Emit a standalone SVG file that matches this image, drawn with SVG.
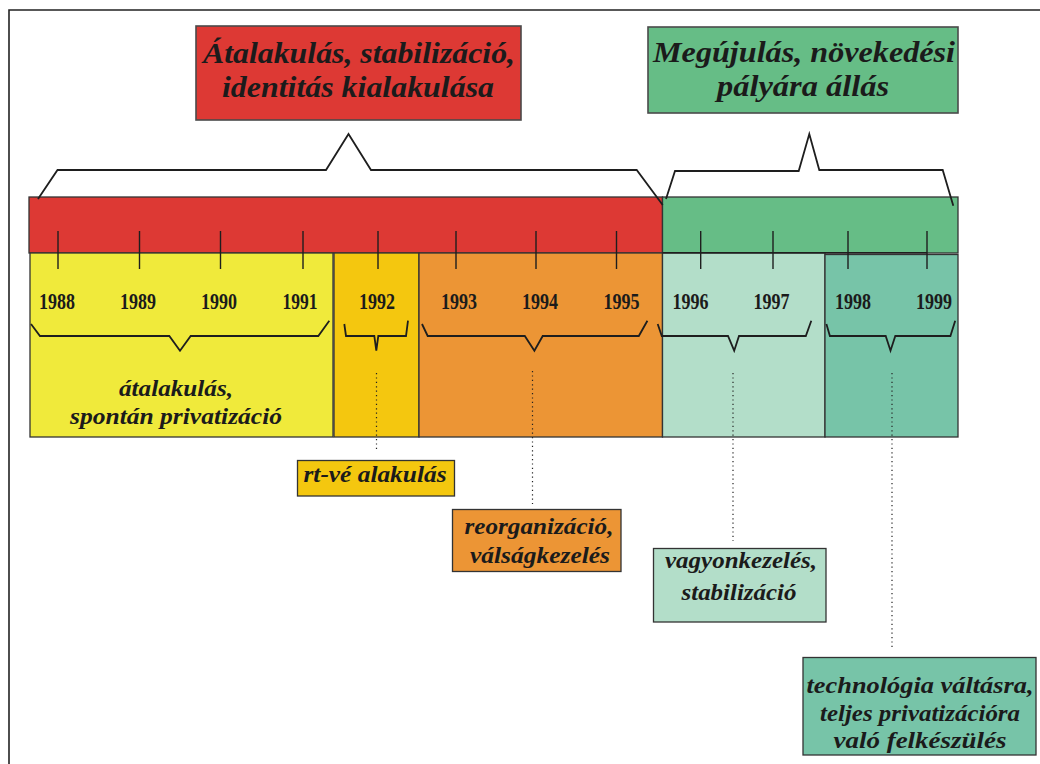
<svg xmlns="http://www.w3.org/2000/svg" width="1040" height="764" viewBox="0 0 1040 764">
  <defs>
    <style>
      .frame { fill: none; stroke: #222; stroke-width: 1.6; }
      .box { stroke: #333; stroke-width: 1.3; }
      .tbox { stroke: #4a4a4a; stroke-width: 1.6; }
      .brace { fill: none; stroke: #1e1e1e; stroke-width: 1.8; stroke-linejoin: miter; }
      .tick { stroke: #1e1e1e; stroke-width: 1.4; }
      .dots { stroke: #222; stroke-width: 1.2; stroke-dasharray: 1.2 3.2; }
      .t { font-family: "Liberation Serif", "Times New Roman", serif; font-weight: bold; font-style: italic; fill: #1b1b1b; text-anchor: middle; }
      .title { font-size: 30px; }
      .lab { font-size: 24px; }
      .year { font-family: "Liberation Serif", "Times New Roman", serif; font-weight: bold; font-size: 24px; fill: #1b1b1b; text-anchor: middle; }
      .red { fill: #DD3934; }
      .green { fill: #66BD86; }
      .yellow { fill: #F0EA3B; }
      .gold { fill: #F4C70F; }
      .orange { fill: #EC9535; }
      .mint { fill: #B3DEC9; }
      .teal { fill: #77C4A8; }
    </style>
  </defs>

  <!-- page frame -->
  <path class="frame" d="M9,764 V10 H1040"/>

  <!-- period headers -->
  <g id="period-transformation">
    <rect class="tbox red" x="196" y="26" width="325" height="94"/>
    <text class="t title" x="359" y="63" textLength="312" lengthAdjust="spacingAndGlyphs">Átalakulás, stabilizáció,</text>
    <text class="t title" x="358" y="97" textLength="272" lengthAdjust="spacingAndGlyphs">identitás kialakulása</text>
  </g>
  <g id="period-renewal">
    <rect class="tbox green" x="648" y="27" width="310" height="86"/>
    <text class="t title" x="804" y="62" textLength="302" lengthAdjust="spacingAndGlyphs">Megújulás, növekedési</text>
    <text class="t title" x="803" y="95.5" textLength="172" lengthAdjust="spacingAndGlyphs">pályára állás</text>
  </g>

  <!-- timeline bar -->
  <g id="timeline-bar">
    <rect class="box red" x="29" y="197" width="633.5" height="56"/>
    <rect class="box green" x="662.5" y="197" width="295.5" height="56"/>
  </g>

  <!-- phase blocks -->
  <g id="phase-1988-1991">
    <rect class="box yellow" x="30" y="253" width="303" height="184"/>
    <text class="t lab" x="176" y="396" textLength="114" lengthAdjust="spacingAndGlyphs">átalakulás,</text>
    <text class="t lab" x="176" y="424" textLength="212" lengthAdjust="spacingAndGlyphs">spontán privatizáció</text>
  </g>
  <g id="phase-1992">
    <rect class="box gold" x="334" y="253" width="85" height="184"/>
  </g>
  <g id="phase-1993-1995">
    <rect class="box orange" x="419" y="253" width="243.5" height="184"/>
  </g>
  <g id="phase-1996-1997">
    <rect class="box mint" x="662.5" y="253" width="162.5" height="184"/>
  </g>
  <g id="phase-1998-1999">
    <rect class="box teal" x="825" y="254.5" width="133" height="182.5"/>
  </g>

  <!-- year ticks and labels -->
  <g id="years">
    <line class="tick" x1="662.5" y1="252.7" x2="927" y2="252.7"/>
    <line class="tick" x1="58" y1="231" x2="58" y2="269"/>
    <line class="tick" x1="139.5" y1="231" x2="139.5" y2="269"/>
    <line class="tick" x1="220.5" y1="231" x2="220.5" y2="269"/>
    <line class="tick" x1="303" y1="231" x2="303" y2="269"/>
    <line class="tick" x1="378" y1="231" x2="378" y2="269"/>
    <line class="tick" x1="456" y1="231" x2="456" y2="269"/>
    <line class="tick" x1="536" y1="231" x2="536" y2="269"/>
    <line class="tick" x1="616.5" y1="231" x2="616.5" y2="269"/>
    <line class="tick" x1="700.7" y1="231" x2="700.7" y2="269"/>
    <line class="tick" x1="773" y1="231" x2="773" y2="269"/>
    <line class="tick" x1="848" y1="231" x2="848" y2="269"/>
    <line class="tick" x1="927" y1="231" x2="927" y2="269"/>
    <text class="year" x="57" y="309" textLength="36" lengthAdjust="spacingAndGlyphs">1988</text>
    <text class="year" x="138" y="309" textLength="36" lengthAdjust="spacingAndGlyphs">1989</text>
    <text class="year" x="219" y="309" textLength="36" lengthAdjust="spacingAndGlyphs">1990</text>
    <text class="year" x="300" y="309" textLength="35" lengthAdjust="spacingAndGlyphs">1991</text>
    <text class="year" x="377" y="309" textLength="36" lengthAdjust="spacingAndGlyphs">1992</text>
    <text class="year" x="459" y="309" textLength="36" lengthAdjust="spacingAndGlyphs">1993</text>
    <text class="year" x="540" y="309" textLength="36" lengthAdjust="spacingAndGlyphs">1994</text>
    <text class="year" x="621.5" y="309" textLength="36" lengthAdjust="spacingAndGlyphs">1995</text>
    <text class="year" x="690.5" y="309" textLength="36" lengthAdjust="spacingAndGlyphs">1996</text>
    <text class="year" x="771.5" y="309" textLength="36" lengthAdjust="spacingAndGlyphs">1997</text>
    <text class="year" x="853" y="309" textLength="36" lengthAdjust="spacingAndGlyphs">1998</text>
    <text class="year" x="934" y="309" textLength="36" lengthAdjust="spacingAndGlyphs">1999</text>
  </g>

  <!-- event notes -->
  <g id="note-1992">
    <rect class="box gold" x="297.5" y="460.5" width="157" height="35.5"/>
    <text class="t lab" x="375" y="482" textLength="143" lengthAdjust="spacingAndGlyphs">rt-vé alakulás</text>
  </g>
  <g id="note-1993-1995">
    <rect class="box orange" x="452.5" y="509.5" width="168.5" height="62"/>
    <text class="t lab" x="539" y="534" textLength="149" lengthAdjust="spacingAndGlyphs">reorganizáció,</text>
    <text class="t lab" x="540" y="563" textLength="140" lengthAdjust="spacingAndGlyphs">válságkezelés</text>
  </g>
  <g id="note-1996-1997">
    <rect class="box mint" x="653.5" y="548.5" width="172.5" height="73.5"/>
    <text class="t lab" x="741" y="568" textLength="152" lengthAdjust="spacingAndGlyphs">vagyonkezelés,</text>
    <text class="t lab" x="739" y="600" textLength="115" lengthAdjust="spacingAndGlyphs">stabilizáció</text>
  </g>
  <g id="note-1998-1999">
    <rect class="box teal" x="803" y="657.5" width="233" height="97.5"/>
    <text class="t lab" x="920" y="693" textLength="227" lengthAdjust="spacingAndGlyphs">technológia váltásra,</text>
    <text class="t lab" x="920" y="721" textLength="200" lengthAdjust="spacingAndGlyphs">teljes privatizációra</text>
    <text class="t lab" x="920" y="748" textLength="173" lengthAdjust="spacingAndGlyphs">való felkészülés</text>
  </g>

  <!-- braces and leader lines -->
  <g id="connectors">
    <path class="brace" d="M38,199 L57.5,170 H326 L348.5,134 L371,170 H636.7 L662.7,205"/>
    <path class="brace" d="M666,199 L675,171 H798.7 L809.3,134 L819.3,170 H942.7 L953.3,205.7"/>
    <path class="brace" d="M31,324 L40,336 H169.3 L180,350.7 L190.7,336 H318.3 L329.3,320.7"/>
    <path class="brace" d="M344.3,324 L346,336 H374.3 L376.3,350.7 L378.3,336 H406 L408,320.7"/>
    <path class="brace" d="M422,324 L427.7,336 H524.8 L534.4,350.7 L542.7,336 H638.8 L647.4,320.7"/>
    <path class="brace" d="M657.7,324 L661.8,336 H728 L734.2,350.7 L739,336 H805.8 L811.3,320.7"/>
    <path class="brace" d="M826.4,324 L829.9,336 H885.7 L890.5,350.7 L895.3,336 H950.4 L955.2,320.7"/>
    <line class="dots" x1="376.5" y1="373" x2="376.5" y2="451"/>
    <line class="dots" x1="532.5" y1="371" x2="532.5" y2="504"/>
    <line class="dots" x1="733" y1="373" x2="733" y2="541"/>
    <line class="dots" x1="892" y1="373" x2="892" y2="649"/>
  </g>
</svg>
